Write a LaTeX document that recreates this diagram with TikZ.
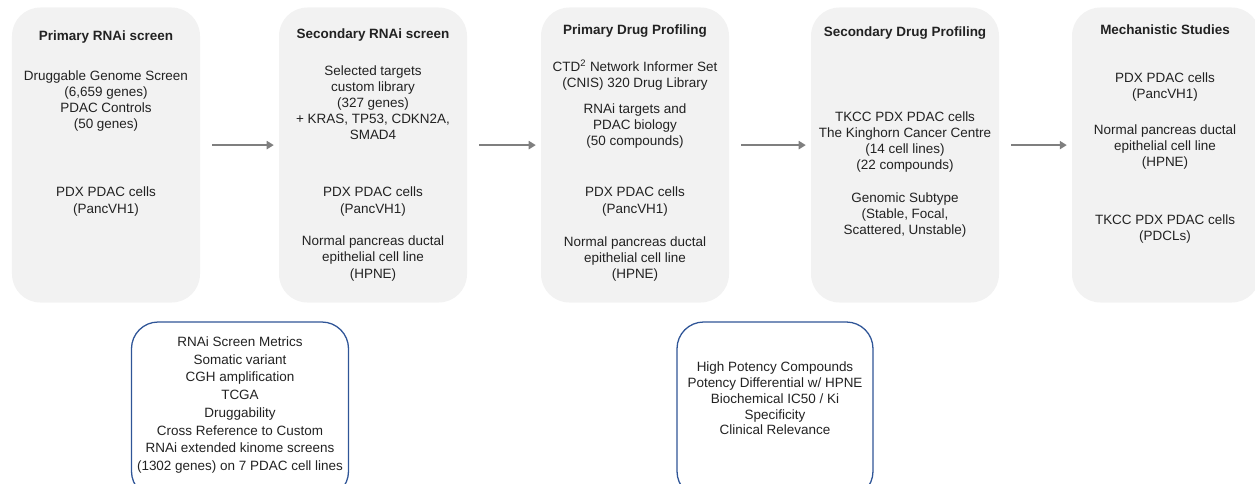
\documentclass[tikz,border=0pt]{standalone}
\usepackage{fontspec}
\setmainfont{Liberation Sans}
\usetikzlibrary{arrows.meta}
\definecolor{stagegray}{HTML}{F2F2F2}
\definecolor{noteblue}{HTML}{2F5597}
\definecolor{flowgray}{HTML}{7F7F7F}
\definecolor{inkgray}{HTML}{222222}

\begin{document}
\begin{tikzpicture}[
stage/.style={
fill=stagegray,
rounded corners=0.85cm,
minimum width=5.64cm,
minimum height=8.85cm,
inner sep=0pt
},
head/.style={text=inkgray, font=\fontsize{11.5}{13.7}\selectfont\bfseries, inner sep=0pt},
body/.style={text=inkgray, align=center, font=\fontsize{11.5}{13.7}\selectfont, inner sep=0pt},
notebox/.style={draw=noteblue, line width=1.1pt, rounded corners=0.8cm, minimum height=5.28cm, inner sep=0pt},
flow/.style={draw=flowgray, line width=1.4pt, -{Triangle[length=6pt,width=7pt]}, shorten <=0.36cm, shorten >=0.15cm}
]

\useasboundingbox (0,0) rectangle (37.65,-14.49);

\node[stage] (S1) at (3.18,-4.65) {};
\node[stage] (S2) at (11.19,-4.65) {};
\node[stage] (S3) at (19.05,-4.65) {};
\node[stage] (S4) at (27.15,-4.65) {};
\node[stage] (S5) at (34.98,-4.65) {};

\node[head] (H1) at (3.18,-1.11) {Primary RNAi screen};
\node[body] (A1) at (3.18,-3.03) {Druggable Genome Screen\\(6,659 genes)\\PDAC Controls\\(50 genes)};
\node[body] (B1) at (3.18,-6.045) {PDX PDAC cells\\(PancVH1)};

\node[head] (H2) at (11.19,-1.05) {Secondary RNAi screen};
\node[body] (A2) at (11.19,-3.09) {Selected targets\\custom library\\(327 genes)\\+ KRAS, TP53, CDKN2A,\\SMAD4};
\node[body] (B2) at (11.19,-6.045) {PDX PDAC cells\\(PancVH1)};
\node[body] (C2) at (11.19,-7.755) {Normal pancreas ductal\\epithelial cell line\\(HPNE)};

\node[head] (H3) at (19.05,-0.93) {Primary Drug Profiling};
\node[body] (A3) at (19.05,-2.25) {CTD\textsuperscript{2} Network Informer Set\\(CNIS) 320 Drug Library};
\node[body] (B3) at (19.05,-3.78) {RNAi targets and\\PDAC biology\\(50 compounds)};
\node[body] (C3) at (19.05,-6.045) {PDX PDAC cells\\(PancVH1)};
\node[body] (D3) at (19.05,-7.77) {Normal pancreas ductal\\epithelial cell line\\(HPNE)};

\node[head] (H4) at (27.15,-0.99) {Secondary Drug Profiling};
\node[body] (A4) at (27.15,-4.26) {TKCC PDX PDAC cells\\The Kinghorn Cancer Centre\\(14 cell lines)\\(22 compounds)};
\node[body] (B4) at (27.15,-6.45) {Genomic Subtype\\(Stable, Focal,\\Scattered, Unstable)};

\node[head] (H5) at (34.95,-0.9) {Mechanistic Studies};
\node[body] (A5) at (34.95,-2.61) {PDX PDAC cells\\(PancVH1)};
\node[body] (B5) at (34.95,-4.41) {Normal pancreas ductal\\epithelial cell line\\(HPNE)};
\node[body] (C5) at (34.95,-6.87) {TKCC PDX PDAC cells\\(PDCLs)};

\draw[flow] (S1.6) -- (S2.174);
\draw[flow] (S2.6) -- (S3.174);
\draw[flow] (S3.6) -- (S4.174);
\draw[flow] (S4.6) -- (S5.174);

\node[notebox, minimum width=6.51cm] (N1) at (7.2,-12.3) {};
\node[body, font=\fontsize{11.5}{15.1}\selectfont] (M1) at (7.2,-12.15) {RNAi Screen Metrics\\Somatic variant\\CGH amplification\\TCGA\\Druggability\\Cross Reference to Custom\\RNAi extended kinome screens\\(1302 genes) on 7 PDAC cell lines};

\node[notebox, minimum width=5.88cm] (N2) at (23.25,-12.3) {};
\node[body, font=\fontsize{11.5}{13.5}\selectfont] (M2) at (23.25,-11.955) {High Potency Compounds\\Potency Differential w/ HPNE\\Biochemical IC50 / Ki\\Specificity\\Clinical Relevance};

\end{tikzpicture}
\end{document}
